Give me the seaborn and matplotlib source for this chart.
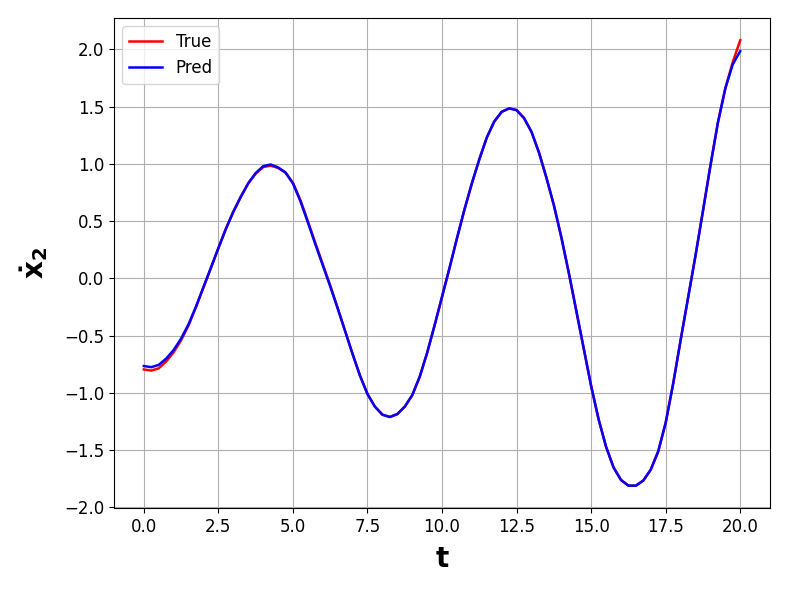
import numpy as np
import pandas as pd
import matplotlib
matplotlib.use("Agg")
import matplotlib.pyplot as plt
import seaborn as sns

# time axis (0 to 20, step 0.25)
t = np.arange(0, 20.001, 0.25)

# predicted derivative values
pred = [
    -0.765, -0.775, -0.755, -0.70, -0.625, -0.525, -0.40, -0.245,
    -0.075, 0.095, 0.265, 0.43, 0.58, 0.71, 0.83, 0.92,
    0.98, 0.995, 0.97, 0.925, 0.83, 0.675, 0.49, 0.30,
    0.115, -0.07, -0.26, -0.46, -0.66, -0.85, -1.01, -1.12,
    -1.19, -1.21, -1.185, -1.12, -1.02, -0.86, -0.65, -0.41,
    -0.16, 0.09, 0.35, 0.60, 0.83, 1.04, 1.23, 1.37,
    1.455, 1.485, 1.47, 1.40, 1.28, 1.10, 0.88, 0.64,
    0.36, 0.05, -0.28, -0.61, -0.94, -1.23, -1.47, -1.65,
    -1.76, -1.81, -1.81, -1.765, -1.67, -1.51, -1.26, -0.92,
    -0.54, -0.17, 0.20, 0.59, 0.985, 1.36, 1.66, 1.87,
    1.985,
]

# true values (nearly identical, small offsets at start, first peak and end)
true = [
    -0.795, -0.805, -0.785, -0.725, -0.645, -0.54, -0.41, -0.25,
    -0.08, 0.09, 0.265, 0.435, 0.585, 0.715, 0.83, 0.915,
    0.972, 0.985, 0.965, 0.925, 0.835, 0.685, 0.50, 0.31,
    0.125, -0.06, -0.26, -0.46, -0.66, -0.85, -1.01, -1.12,
    -1.19, -1.21, -1.185, -1.12, -1.02, -0.86, -0.65, -0.41,
    -0.16, 0.09, 0.35, 0.60, 0.83, 1.04, 1.23, 1.37,
    1.455, 1.485, 1.47, 1.40, 1.28, 1.10, 0.88, 0.64,
    0.36, 0.05, -0.28, -0.61, -0.94, -1.23, -1.47, -1.65,
    -1.76, -1.81, -1.81, -1.765, -1.67, -1.51, -1.26, -0.92,
    -0.54, -0.17, 0.20, 0.59, 0.985, 1.36, 1.66, 1.89,
    2.08,
]

plt.rcParams["mathtext.default"] = "bf"

fig = plt.figure(figsize=(7.89, 5.92), dpi=100)
ax = fig.add_axes([0.1445, 0.142, 0.8315, 0.8276])

sns.lineplot(x=t, y=true, color="red", linewidth=1.8, label="True", ax=ax)
sns.lineplot(x=t, y=pred, color="blue", linewidth=1.8, label="Pred", ax=ax)

ax.grid(True, color="#b0b0b0", linewidth=0.8)
ax.set_axisbelow(True)
ax.legend(loc="upper left", fontsize=12)
ax.tick_params(labelsize=12)
ax.set_xlabel("t", fontsize=20, fontweight="bold", labelpad=7)
ax.set_ylabel(r"$\dot{x}_2$", fontsize=20, fontweight="bold", labelpad=10)

fig.savefig("out.png", dpi=100)
plt.close(fig)
